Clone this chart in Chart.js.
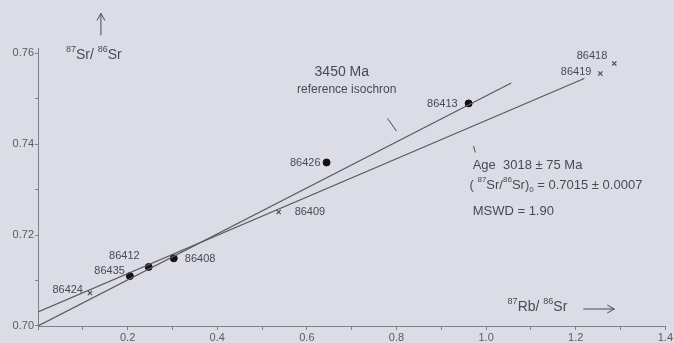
<!DOCTYPE html>
<html>
<head>
<meta charset="utf-8">
<script src="https://cdn.jsdelivr.net/npm/chart.js@4/dist/chart.umd.min.js"></script>
<style>
  html, body { margin: 0; padding: 0; background: #dcdce6; }
  #wrap { width: 674px; height: 343px; }
</style>
</head>
<body>
<div id="wrap"><canvas id="id-chartIsochron"></canvas></div>
<script>
// ----------------------------- data -----------------------------
var dotIds = ["86435", "86412", "86408", "86426", "86413"];
var dotRb = [0.205, 0.247, 0.303, 0.644, 0.961];
var dotSr = [0.7110, 0.7130, 0.7149, 0.7360, 0.7490];

var crossIds = ["86424", "86409", "86419", "86418"];
var crossRb = [0.116, 0.537, 1.255, 1.286];
var crossSr = [0.70725, 0.7251, 0.7556, 0.7578];

// 3450 Ma reference line and 3018 Ma isochron (end points)
var refRb = [0, 1.056];
var refSr = [0.700, 0.7535];
var isoRb = [0, 1.219];
var isoSr = [0.7031, 0.7545];

var xTickLabels = ["0.2", "0.4", "0.6", "0.8", "1.0", "1.2", "1.4"];
var yTickLabels = ["0.70", "0.72", "0.74", "0.76"];

function toPoints(xs, ys) {
  return xs.map(function(x, i) { return {x: x, y: ys[i]}; });
}

var inkColor = "#4a4a55";
var axisColor = "#80808a";
var fontName = "'Liberation Sans', Arial, sans-serif";

// label placement next to each sample: [dx, dy, align]
var dotLabelPos = [[-5, -5, "right"], [-9, -11, "right"], [11, 1, "left"], [-6, 0, "right"], [-11, 1, "right"]];
var crossLabelPos = [[-7, -3, "right"], [16, 0, "left"], [-9, -1, "right"], [-7, -7, "right"]];

function drawRich(ctx, parts, x, y, size) {
  // parts: [text, mode] with mode "" / "sup" / "sub"
  var cx = x;
  parts.forEach(function(p) {
    var small = p[1] !== "";
    ctx.font = (small ? Math.round(size * 0.62) : size) + "px " + fontName;
    var dy = p[1] === "sup" ? -size * 0.42 : (p[1] === "sub" ? size * 0.35 : 0);
    ctx.fillText(p[0], cx, y + dy);
    cx += ctx.measureText(p[0]).width;
  });
  return cx;
}

var annotationPlugin = {
  id: "annotations",
  afterDraw: function(chart) {
    var ctx = chart.ctx;
    var sx = chart.scales.x, sy = chart.scales.y;
    function P(x, y) { return [sx.getPixelForValue(x), sy.getPixelForValue(y)]; }
    ctx.save();
    ctx.fillStyle = inkColor;
    ctx.strokeStyle = inkColor;
    ctx.textBaseline = "middle";

    // sample labels
    ctx.font = "11px " + fontName;
    dotIds.forEach(function(id, i) {
      var p = P(dotRb[i], dotSr[i]);
      ctx.textAlign = dotLabelPos[i][2];
      ctx.fillText(id, p[0] + dotLabelPos[i][0], p[1] + dotLabelPos[i][1]);
    });
    crossIds.forEach(function(id, i) {
      var p = P(crossRb[i], crossSr[i]);
      ctx.textAlign = crossLabelPos[i][2];
      ctx.fillText(id, p[0] + crossLabelPos[i][0], p[1] + crossLabelPos[i][1]);
    });

    // reference isochron text
    ctx.textAlign = "center";
    ctx.font = "14px " + fontName;
    var a = P(0.678, 0.7558);
    ctx.fillText("3450 Ma", a[0], a[1]);
    ctx.font = "12px " + fontName;
    a = P(0.689, 0.7521);
    ctx.fillText("reference isochron", a[0], a[1]);

    // isochron result text
    ctx.textAlign = "left";
    ctx.font = "13px " + fontName;
    a = P(0.970, 0.7354);
    ctx.fillText("Age  3018 ± 75 Ma", a[0], a[1]);
    a = P(0.963, 0.7310);
    drawRich(ctx, [["( ", ""], ["87", "sup"], ["Sr/", ""], ["86", "sup"], ["Sr)", ""], ["0", "sub"], [" = 0.7015 ± 0.0007", ""]], a[0], a[1], 13);
    ctx.font = "13px " + fontName;
    a = P(0.970, 0.7253);
    ctx.fillText("MSWD = 1.90", a[0], a[1]);

    // pointer strokes
    ctx.lineWidth = 1;
    ctx.beginPath();
    a = P(0.780, 0.7457); ctx.moveTo(a[0], a[1]);
    a = P(0.800, 0.7429); ctx.lineTo(a[0], a[1]);
    a = P(0.972, 0.7396); ctx.moveTo(a[0], a[1]);
    a = P(0.976, 0.7382); ctx.lineTo(a[0], a[1]);
    ctx.stroke();

    // axis titles with arrows
    a = P(0.0624, 0.7596);
    drawRich(ctx, [["87", "sup"], ["Sr/ ", ""], ["86", "sup"], ["Sr", ""]], a[0], a[1], 14);
    var t = P(0.1404, 0.7640), h = P(0.1404, 0.7688);
    ctx.beginPath();
    ctx.moveTo(t[0], t[1]); ctx.lineTo(h[0], h[1]);
    ctx.moveTo(h[0] - 4, h[1] + 7); ctx.lineTo(h[0], h[1]); ctx.lineTo(h[0] + 4, h[1] + 7);
    ctx.stroke();

    a = P(1.048, 0.70418);
    drawRich(ctx, [["87", "sup"], ["Rb/ ", ""], ["86", "sup"], ["Sr", ""]], a[0], a[1], 14);
    t = P(1.217, 0.70374); h = P(1.286, 0.70374);
    ctx.beginPath();
    ctx.moveTo(t[0], t[1]); ctx.lineTo(h[0], h[1]);
    ctx.moveTo(h[0] - 7, h[1] - 4); ctx.lineTo(h[0], h[1]); ctx.lineTo(h[0] - 7, h[1] + 4);
    ctx.stroke();
    ctx.restore();
  }
};

// keep only the ticks that sit on a whole step
function keepSteps(scale) {
  scale.ticks = scale.ticks.filter(function(t) {
    var v = scale.id === "x" ? t.value * 10 : t.value * 100;
    return Math.abs(v - Math.round(v)) < 1e-6;
  });
}

new Chart("id-chartIsochron", {
  type: "scatter",
  data: {
    datasets: [{
      type: "line",
      data: toPoints(refRb, refSr),
      borderColor: "#5a5a64",
      borderWidth: 1.2,
      pointRadius: 0
    }, {
      type: "line",
      data: toPoints(isoRb, isoSr),
      borderColor: "#5a5a64",
      borderWidth: 1.2,
      pointRadius: 0
    }, {
      data: toPoints(dotRb, dotSr),
      backgroundColor: "#111",
      borderColor: "#111",
      pointRadius: 3.5,
      pointHoverRadius: 3.5
    }, {
      data: toPoints(crossRb, crossSr),
      pointStyle: "crossRot",
      borderColor: "#4a4a55",
      borderWidth: 1.2,
      pointRadius: 3,
      pointHoverRadius: 3
    }]
  },
  options: {
    responsive: true,
    maintainAspectRatio: false,
    animation: false,
    events: [],
    layout: {padding: {top: 48, right: 8, left: 0, bottom: 0}},
    plugins: {legend: {display: false}, tooltip: {enabled: false}},
    scales: {
      x: {
        type: "linear",
        min: 0,
        max: 1.4,
        border: {color: axisColor, width: 1},
        grid: {drawOnChartArea: false, color: axisColor, tickLength: 4},
        afterBuildTicks: keepSteps,
        afterFit: function(s) { s.height = 17; },
        ticks: {
          stepSize: 0.1,
          includeBounds: false,
          autoSkip: false,
          maxRotation: 0,
          padding: 1,
          color: "#5a5a64",
          font: {family: fontName, size: 11},
          callback: function(v) {
            var s = (Math.round(v * 10) / 10).toFixed(1);
            return xTickLabels.indexOf(s) >= 0 ? s : "";
          }
        }
      },
      y: {
        type: "linear",
        min: 0.70,
        max: 0.7612,
        border: {color: axisColor, width: 1},
        grid: {drawOnChartArea: false, color: axisColor, tickLength: 3},
        afterBuildTicks: keepSteps,
        afterFit: function(s) { s.width = 38; },
        ticks: {
          stepSize: 0.01,
          includeBounds: false,
          autoSkip: false,
          padding: 1,
          color: "#5a5a64",
          font: {family: fontName, size: 11},
          callback: function(v) {
            var s = (Math.round(v * 100) / 100).toFixed(2);
            return yTickLabels.indexOf(s) >= 0 ? s : "";
          }
        }
      }
    }
  },
  plugins: [annotationPlugin]
});
</script>
</body>
</html>
